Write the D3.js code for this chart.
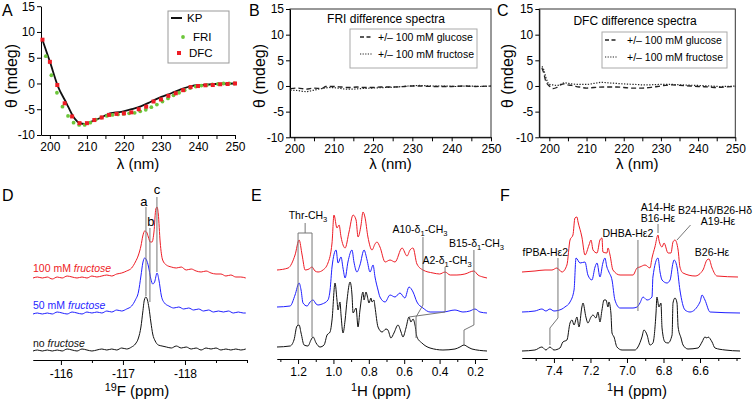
<!DOCTYPE html>
<html><head><meta charset="utf-8">
<script src="https://cdn.jsdelivr.net/npm/d3@7"></script>
<style>
body{margin:0;background:#fff}
svg{display:block}
text{font-family:"Liberation Sans",Arial,Helvetica,sans-serif}
</style></head>
<body><svg id="c" width="753" height="400"></svg>
<script>
// ================= DATA =================
// Panel A — CD spectra
const kpNm  = [198,200,202.2,204.5,206.3,208.1,209.4,211.2,213.9,216.2,219.3,222,224.7,227.4,230.1,232.8,235.5,238.2,240.9,244.5,250];
const kpVal = [8.45,4.24,-0.6,-3.85,-6.4,-7.7,-7.86,-7.4,-6.6,-5.8,-5.5,-5.0,-4.4,-3.5,-2.6,-1.9,-1.1,-0.5,-0.3,-0.1,0];
const friNm  = [198.9,200.4,201.9,203.4,204.9,206.4,207.9,209.4,210.9,212.4,213.9,215.4,216.9,218.4,219.9,221.4,222.9,224.4,225.9,227.4,228.9,230.4,231.9,233.4,234.9,236.4,237.9,239.4,240.9,242.4,243.9,245.4,246.9,248.4,249.9];
const friVal = [5.3,1.6,-1.8,-4.5,-6.3,-7.6,-8.05,-8.05,-7.6,-7.0,-6.6,-6.3,-6.1,-6.0,-5.9,-5.8,-5.7,-5.4,-5.1,-4.6,-4.1,-3.5,-2.9,-2.3,-1.8,-1.3,-0.9,-0.6,-0.4,-0.3,-0.2,-0.1,0,0,0];
const dfcNm  = [198,200,202,204,206,208,210,212,214,216,218,220,222,224,226,228,230,232,234,236,238,240,242,244,246,248,250];
const dfcVal = [8.5,4.2,-0.3,-3.85,-6.4,-7.7,-7.7,-7.1,-6.6,-6.1,-5.9,-5.8,-5.6,-5.0,-4.5,-3.5,-3.1,-2.4,-1.9,-1.3,-0.7,-0.5,-0.35,-0.3,-0.15,-0.1,0];
// Panel B — FRI difference spectra
const friGlcNm  = [199,201,203,205,207,208,210,212,214,216,218,220,222,225,228,230,232,235,238,240,243,246,250];
const friGlcVal = [-0.5,-0.4,-0.6,-0.4,-0.5,-0.1,-0.1,-0.2,-0.3,-0.2,-0.3,-0.3,-0.2,-0.2,-0.1,0,0,-0.1,-0.1,-0.1,0,-0.1,0];
const friFrcNm  = [199,201,203,205,207,209,211,213,215,217,220,223,226,229,232,235,238,241,244,247,250];
const friFrcVal = [-0.8,-0.9,-1.1,-0.8,-0.5,-0.3,-0.4,-0.6,-0.6,-0.5,-0.4,-0.3,-0.2,0,0.1,0,0,-0.1,0,-0.1,0];
// Panel C — DFC difference spectra
const dfcGlcNm  = [198,198.5,199,200,201,202,203,204,205,206,208,210,212,215,218,220,222,225,228,230,233,235,238,240,243,245,247,250];
const dfcGlcVal = [3.5,2.5,1.0,0,-0.5,-0.3,0.2,0.4,0.2,0.1,-0.2,-0.4,-0.3,-0.2,-0.2,-0.3,-0.4,-0.4,-0.2,0,0.2,0.1,0,-0.1,-0.2,-0.3,-0.2,-0.1];
const dfcFrcNm  = [198,198.5,199,199.5,200,201,202,203,204,206,208,210,212,214,216,218,220,223,226,230,233,236,240,243,246,250];
const dfcFrcVal = [3.8,3.2,1.8,0.8,0.3,0.2,0.1,0.3,0.6,0.4,0.3,0.3,0.5,0.7,0.6,0.5,0.4,0.3,0.2,0.3,0.3,0.2,0.1,0,-0.1,0];
const cdYTicks = [-10,-5,0,5,10,15];
const cdXTicks = [200,205,210,215,220,225,230,235,240,245,250];

// Panel D — 19F spectra [ppm, intensity]
const dNoFru = [[-115.55,1],[-115.62,2],[-115.70,1],[-115.78,2],[-115.86,1],[-115.94,2],[-116.02,1],[-116.10,3],[-116.18,2],[-116.26,1],[-116.34,3],[-116.42,2],[-116.50,1],[-116.58,2],[-116.66,3],[-116.74,2],[-116.82,3],[-116.90,2],[-116.98,4],[-117.06,3],[-117.14,5],[-117.20,8],[-117.25,14],[-117.29,25],[-117.32,40],[-117.345,52],[-117.37,55],[-117.395,52],[-117.42,44],[-117.45,30],[-117.48,18],[-117.52,11],[-117.57,7],[-117.63,6],[-117.70,5],[-117.78,4],[-117.86,6],[-117.94,4],[-118.02,5],[-118.10,3],[-118.18,4],[-118.26,2],[-118.34,4],[-118.42,3],[-118.50,4],[-118.58,2],[-118.66,3],[-118.74,2],[-118.82,3],[-118.90,2],[-118.98,3]];
const d50Fru = [[-115.55,38],[-115.62,39],[-115.70,38],[-115.78,39],[-115.86,38],[-115.94,40],[-116.02,39],[-116.10,38],[-116.18,40],[-116.26,39],[-116.34,38],[-116.42,40],[-116.50,39],[-116.58,40],[-116.66,39],[-116.74,41],[-116.82,40],[-116.90,42],[-116.98,41],[-117.06,43],[-117.14,46],[-117.20,52],[-117.25,60],[-117.29,76],[-117.32,89],[-117.35,94],[-117.38,92],[-117.41,86],[-117.45,73],[-117.48,68],[-117.51,70],[-117.55,79],[-117.58,72],[-117.62,56],[-117.67,49],[-117.74,46],[-117.82,44],[-117.90,45],[-117.98,43],[-118.06,44],[-118.14,42],[-118.22,43],[-118.30,41],[-118.38,42],[-118.46,40],[-118.54,41],[-118.62,40],[-118.70,41],[-118.78,39],[-118.86,40],[-118.94,39],[-118.98,39]];
const d100Fru = [[-115.55,74],[-115.62,75],[-115.70,74],[-115.78,75],[-115.86,73],[-115.94,75],[-116.02,74],[-116.10,76],[-116.18,75],[-116.26,74],[-116.34,75],[-116.42,74],[-116.50,76],[-116.58,75],[-116.66,76],[-116.74,77],[-116.82,76],[-116.90,78],[-116.98,79],[-117.06,81],[-117.14,84],[-117.20,90],[-117.25,97],[-117.29,106],[-117.32,116],[-117.35,121],[-117.38,120],[-117.41,115],[-117.44,110],[-117.47,110],[-117.50,120],[-117.53,143],[-117.55,145],[-117.57,138],[-117.60,110],[-117.64,92],[-117.70,87],[-117.78,85],[-117.86,84],[-117.94,85],[-118.02,82],[-118.10,83],[-118.18,81],[-118.26,80],[-118.34,81],[-118.42,79],[-118.50,78],[-118.58,78],[-118.66,76],[-118.74,77],[-118.82,75],[-118.90,75],[-118.98,74]];
const dMajor = [-116,-117,-118];
const dMinor = [-116.5,-117.5,-118.5,-119];

// Panel E — 1H methyl region [ppm, intensity]
const eBlack = [[1.319,3],[1.245,4],[1.223,10],[1.206,24],[1.194,25],[1.183,17],[1.166,5],[1.144,4],[1.127,10],[1.115,13],[1.098,7],[1.076,3],[1.053,5],[1.036,15],[1.019,18],[1.008,30],[0.991,67],[0.980,50],[0.974,40],[0.963,48],[0.957,35],[0.946,17],[0.934,30],[0.923,50],[0.906,68],[0.895,55],[0.889,37],[0.872,42],[0.861,23],[0.850,40],[0.833,58],[0.827,50],[0.816,58],[0.810,55],[0.799,47],[0.788,52],[0.782,48],[0.771,50],[0.765,43],[0.748,23],[0.725,18],[0.703,21],[0.692,20],[0.675,12],[0.658,17],[0.635,25],[0.618,18],[0.607,13],[0.590,22],[0.573,33],[0.562,28],[0.550,31],[0.539,25],[0.528,13],[0.500,7],[0.454,2],[0.381,0],[0.313,1],[0.285,3],[0.262,5],[0.240,3],[0.217,1],[0.132,-1]];
const eBlue = [[1.319,43],[1.245,44],[1.217,55],[1.194,67],[1.183,60],[1.172,47],[1.149,44],[1.132,48],[1.115,50],[1.098,46],[1.087,45],[1.064,46],[1.031,50],[1.019,60],[1.008,83],[0.985,100],[0.974,87],[0.957,93],[0.946,82],[0.934,72],[0.918,88],[0.895,100],[0.884,88],[0.867,78],[0.850,85],[0.827,100],[0.810,90],[0.793,78],[0.776,85],[0.765,73],[0.748,60],[0.737,53],[0.708,48],[0.680,55],[0.652,53],[0.624,57],[0.596,52],[0.573,63],[0.550,58],[0.528,48],[0.494,42],[0.454,38],[0.381,38],[0.313,40],[0.268,38],[0.229,39],[0.200,41],[0.172,38],[0.132,37]];
const eRed = [[1.319,80],[1.256,82],[1.217,95],[1.194,110],[1.177,95],[1.160,80],[1.138,81],[1.121,83],[1.104,79],[1.087,78],[1.059,80],[1.031,87],[1.008,107],[0.997,135],[0.980,122],[0.968,125],[0.957,113],[0.934,102],[0.912,118],[0.889,135],[0.872,130],[0.861,113],[0.844,125],[0.833,138],[0.822,133],[0.805,113],[0.782,100],[0.765,106],[0.754,108],[0.737,103],[0.708,88],[0.680,90],[0.652,88],[0.612,102],[0.584,94],[0.567,100],[0.550,102],[0.528,86],[0.494,80],[0.437,77],[0.400,76],[0.369,78],[0.340,75],[0.302,75],[0.257,76],[0.206,79],[0.183,75],[0.155,73],[0.132,72]];
const eMajor = [1.2,1.0,0.8,0.6,0.4,0.2];
const eMinor = [1.3,1.1,0.9,0.7,0.5,0.3];

// Panel F — 1H aromatic region [ppm, intensity]
const fBlack = [[7.575,0],[7.504,1],[7.466,4],[7.444,1],[7.422,4],[7.400,1],[7.367,3],[7.351,9],[7.329,11],[7.312,28],[7.301,31],[7.290,26],[7.274,34],[7.263,24],[7.247,44],[7.241,48],[7.225,34],[7.214,28],[7.197,34],[7.186,36],[7.170,33],[7.159,39],[7.148,29],[7.137,41],[7.126,51],[7.115,51],[7.104,44],[7.099,49],[7.088,38],[7.082,18],[7.071,14],[7.055,4],[7.027,1],[6.956,1],[6.940,4],[6.918,14],[6.907,21],[6.890,16],[6.874,6],[6.858,8],[6.841,38],[6.836,54],[6.825,44],[6.814,48],[6.808,23],[6.792,9],[6.775,8],[6.753,16],[6.748,48],[6.737,53],[6.726,48],[6.720,24],[6.704,13],[6.693,6],[6.666,2],[6.611,3],[6.589,9],[6.573,14],[6.562,13],[6.556,14],[6.534,9],[6.518,3],[6.463,1],[6.381,0]];
const fBlue = [[7.575,39],[7.504,40],[7.466,42],[7.444,40],[7.422,42],[7.400,40],[7.356,42],[7.340,44],[7.312,49],[7.290,61],[7.279,93],[7.257,88],[7.230,89],[7.214,76],[7.192,71],[7.175,84],[7.164,88],[7.148,74],[7.132,88],[7.121,93],[7.110,84],[7.099,79],[7.082,71],[7.066,51],[7.038,43],[6.967,43],[6.945,44],[6.929,48],[6.912,54],[6.890,51],[6.863,54],[6.858,74],[6.830,93],[6.819,79],[6.808,71],[6.781,68],[6.764,71],[6.748,88],[6.742,91],[6.726,84],[6.710,61],[6.682,41],[6.655,39],[6.600,49],[6.589,56],[6.573,51],[6.545,39],[6.381,38]];
const fRed = [[7.575,79],[7.504,80],[7.449,81],[7.411,81],[7.384,83],[7.356,79],[7.329,86],[7.312,111],[7.296,116],[7.285,133],[7.274,134],[7.268,129],[7.247,114],[7.230,96],[7.208,106],[7.197,111],[7.186,101],[7.164,98],[7.148,111],[7.137,113],[7.132,99],[7.110,98],[7.104,103],[7.093,96],[7.077,81],[7.038,76],[6.967,76],[6.945,83],[6.929,84],[6.901,86],[6.874,83],[6.863,93],[6.847,104],[6.830,116],[6.825,111],[6.808,104],[6.797,108],[6.775,98],[6.759,98],[6.748,109],[6.737,111],[6.720,101],[6.710,84],[6.693,78],[6.627,75],[6.584,81],[6.562,91],[6.551,92],[6.534,83],[6.507,75],[6.392,74]];
const fMajor = [7.4,7.2,7.0,6.8,6.6];
const fMinor = [7.5,7.3,7.1,6.9,6.7,6.5,6.4];

// annotation leader lines [ppm, intensity]
const dLeaders = [[[-117.371,145],[-117.371,56]],[[-117.435,124],[-117.435,50]],[[-117.548,155],[-117.548,80]]];
const eLeaders = [
  [[1.160,127],[1.160,117]],[[1.200,117],[1.121,117]],[[1.200,117],[1.200,25]],[[1.121,117],[1.121,13]],
  [[0.494,113],[0.494,45],[0.533,33],[0.533,12]],
  [[0.369,83],[0.369,38],[0.573,33]],
  [[0.206,100],[0.206,25],[0.262,20],[0.262,5]]];
const fLeaders = [
  [[7.378,93],[7.378,33],[7.422,23],[7.422,6]],
  [[6.940,111],[6.940,40]],
  [[6.830,127],[6.830,118]],
  [[6.652,126],[6.726,111]]];

// ================= DRAW =================
const svg = d3.select("#c");
const RED = "#ee1c25", BLUE = "#1f1fff", GREEN = "#6cc63a", BLK = "#111";
const LEAD = "#777";

function rich(sel, segs){
  let shift = 0;
  segs.forEach(s=>{
    const want = s.sub ? 3 : (s.sup ? -5 : 0);
    const ts = sel.append("tspan").attr("dy", want - shift).text(s.t);
    if (s.sub || s.sup) ts.style("font-size","0.72em");
    if (s.it) ts.style("font-style","italic");
    shift = want;
  });
  return sel;
}
function styleAxis(g, fs){
  g.attr("font-size", fs).attr("font-family", null);
  g.selectAll("path,line").attr("stroke","#000").attr("stroke-width",1);
  g.selectAll("text").attr("fill","#000");
}
const letter = (x,y,t)=> svg.append("text").attr("x",x).attr("y",y).attr("font-size",16).text(t);

// ---------- CD panels ----------
function cdPanel(o){
  const g = svg.append("g");
  const x = d3.scaleLinear().domain(o.xd).range(o.xr);
  const y = d3.scaleLinear().domain([-10,15]).range(o.yr);
  if (o.frame){
    g.append("rect").attr("x",o.xr[0]).attr("y",o.yr[1]).attr("width",o.xr[1]-o.xr[0]).attr("height",o.yr[0]-o.yr[1])
      .attr("fill","none").attr("stroke","#333").attr("stroke-width",1);
  }
  const ax = g.append("g").attr("transform",`translate(0,${o.yr[0]})`)
    .call(d3.axisBottom(x).tickValues(cdXTicks).tickFormat(d=> d%10===0 ? String(d) : "").tickSize(4).tickSizeOuter(0).tickPadding(3));
  styleAxis(ax, 12);
  const ay = g.append("g").attr("transform",`translate(${o.xr[0]},0)`)
    .call(d3.axisLeft(y).tickValues(cdYTicks).tickFormat(d=>String(d)).tickSize(4).tickSizeOuter(0).tickPadding(2));
  styleAxis(ay, 12);
  g.append("text").attr("x",(o.xr[0]+o.xr[1])/2).attr("y",169).attr("text-anchor","middle").attr("font-size",15).text("λ (nm)");
  g.append("text").attr("transform",`translate(${o.ylx},76) rotate(-90)`).attr("text-anchor","middle").attr("font-size",16).text("θ (mdeg)");
  return {g,x,y};
}

// Panel A
{
  const {g,x,y} = cdPanel({xd:[197.6,250], xr:[41,235], yr:[135,6.2], ylx:17});
  const line = d3.line().x((d,i)=>x(d[0])).y(d=>y(d[1])).curve(d3.curveMonotoneX);
  g.append("path").attr("d", line(kpNm.map((v,i)=>[v,kpVal[i]]))).attr("fill","none").attr("stroke",BLK).attr("stroke-width",1.8);
  g.selectAll("circle.fri").data(friNm.map((v,i)=>[v,friVal[i]])).join("circle")
    .attr("cx",d=>x(d[0])).attr("cy",d=>y(d[1])).attr("r",1.9).attr("fill",GREEN);
  g.selectAll("rect.dfc").data(dfcNm.map((v,i)=>[v,dfcVal[i]])).join("rect")
    .attr("x",d=>x(d[0])-2).attr("y",d=>y(d[1])-2).attr("width",4).attr("height",4).attr("fill",RED);
  // legend
  const L = g.append("g");
  L.append("rect").attr("x",168).attr("y",11).attr("width",61).attr("height",52).attr("fill","#fff").attr("stroke","#999");
  L.append("line").attr("x1",171).attr("x2",182).attr("y1",18).attr("y2",18).attr("stroke",BLK).attr("stroke-width",2);
  L.append("text").attr("x",187).attr("y",22).attr("font-size",11.5).text("KP");
  L.append("circle").attr("cx",183).attr("cy",37).attr("r",1.9).attr("fill",GREEN);
  L.append("text").attr("x",193).attr("y",41).attr("font-size",11.5).text("FRI");
  L.append("rect").attr("x",177).attr("y",51).attr("width",4).attr("height",4).attr("fill",RED);
  L.append("text").attr("x",189).attr("y",57).attr("font-size",11.5).text("DFC");
  letter(2,16,"A");
}

function diffPanel(o){
  const {g,x,y} = cdPanel(o);
  const line = d3.line().x(d=>x(d[0])).y(d=>y(d[1])).curve(d3.curveMonotoneX);
  g.append("path").attr("d", line(o.glc)).attr("fill","none").attr("stroke","#222").attr("stroke-width",1.3).attr("stroke-dasharray","5,3");
  g.append("path").attr("d", line(o.frc)).attr("fill","none").attr("stroke","#222").attr("stroke-width",1.2).attr("stroke-dasharray","1.3,1.5");
  g.append("text").attr("x",o.title[0]).attr("y",o.title[1]).attr("text-anchor","middle").attr("font-size",12).text(o.titleText);
  const b = o.box;
  g.append("rect").attr("x",b[0]).attr("y",b[1]).attr("width",b[2]).attr("height",b[3]).attr("fill","#fff").attr("stroke","#aaa");
  g.append("line").attr("x1",b[0]+b[4]).attr("x2",b[0]+b[4]+13).attr("y1",b[1]+8).attr("y2",b[1]+8).attr("stroke","#222").attr("stroke-width",1.3).attr("stroke-dasharray","4,2.5");
  g.append("line").attr("x1",b[0]+b[4]).attr("x2",b[0]+b[4]+13).attr("y1",b[1]+25).attr("y2",b[1]+25).attr("stroke","#222").attr("stroke-width",1.2).attr("stroke-dasharray","1.2,1.4");
  g.append("text").attr("x",b[0]+b[5]).attr("y",b[1]+12).attr("font-size",10.5).text("+/– 100 mM glucose");
  g.append("text").attr("x",b[0]+b[5]).attr("y",b[1]+29).attr("font-size",10.5).text("+/– 100 mM fructose");
}
diffPanel({xd:[198.9,250], xr:[290,491], yr:[137.3,9], ylx:265, frame:true,
  glc: friGlcNm.map((v,i)=>[v,friGlcVal[i]]), frc: friFrcNm.map((v,i)=>[v,friFrcVal[i]]),
  title:[386,23], titleText:"FRI difference spectra", box:[350,29,127,39,10,28]});
letter(249,16,"B");
diffPanel({xd:[197.3,250], xr:[539.3,735.3], yr:[137.3,9], ylx:513, frame:true,
  glc: dfcGlcNm.map((v,i)=>[v,dfcGlcVal[i]]), frc: dfcFrcNm.map((v,i)=>[v,dfcFrcVal[i]]),
  title:[635,25], titleText:"DFC difference spectra", box:[602,32,125,36,3,25]});
letter(497,16,"C");

// ---------- NMR panels ----------
function nmrPanel(o){
  const g = svg.append("g");
  const x = d3.scaleLinear().domain(o.xd).range(o.xr);
  const y = d3.scaleLinear().domain([0,160]).range([o.y0, o.y0-160]);
  const line = d3.line().x(d=>x(d[0])).y(d=>y(d[1])).curve(d3.curveMonotoneX);
  o.traces.forEach(t=> g.append("path").attr("d", line(t[0])).attr("fill","none").attr("stroke",t[1]).attr("stroke-width",1));
  const ll = d3.line().x(d=>x(d[0])).y(d=>y(d[1]));
  o.leaders.forEach(p=> g.append("path").attr("d", ll(p)).attr("fill","none").attr("stroke",LEAD).attr("stroke-width",1));
  const amin = g.append("g").attr("transform",`translate(0,${o.ax})`)
    .call(d3.axisBottom(x).tickValues(o.minor).tickFormat("").tickSize(3).tickSizeOuter(0));
  styleAxis(amin, 11);
  const amaj = g.append("g").attr("transform",`translate(0,${o.ax})`)
    .call(d3.axisBottom(x).tickValues(o.major).tickFormat(o.fmt).tickSize(5).tickSizeOuter(0).tickPadding(o.pad));
  styleAxis(amaj, 12);
  const t = g.append("text").attr("x",o.titleX).attr("y",396).attr("text-anchor","middle").attr("font-size",15);
  rich(t, [{t:o.nuc,sup:true},{t:" "},{t:o.el+" (ppm)"}].filter(s=>s.t!==" "));
  return {g,x,y};
}

// Panel D
{
  const {g,x,y} = nmrPanel({xd:[-115.55,-119], xr:[33,247], y0:352, ax:360, pad:4,
    traces:[[dNoFru,BLK],[d50Fru,BLUE],[d100Fru,RED]], leaders:dLeaders,
    major:dMajor, minor:dMinor, fmt:d=>String(d), titleX:137, nuc:"19", el:"F"});
  const lab = (ppm,int,segs,col)=> rich(g.append("text").attr("x",x(ppm)).attr("y",y(int)).attr("font-size",10.5).attr("fill",col), segs);
  lab(-115.55,80,[{t:"100 mM "},{t:"fructose",it:true}],RED);
  lab(-115.55,43,[{t:"50 mM "},{t:"fructose",it:true}],BLUE);
  lab(-115.55,5,[{t:"no "},{t:"fructose",it:true}],BLK);
  [["a",-117.339,146],["b",-117.452,126],["c",-117.548,158]].forEach(d=>
    g.append("text").attr("x",x(d[1])).attr("y",y(d[2])).attr("text-anchor","middle").attr("font-size",13).text(d[0]));
  letter(2,201,"D");
}

// Panel E
{
  const {g,x,y} = nmrPanel({xd:[1.319,0.132], xr:[277,487], y0:350, ax:359, pad:3,
    traces:[[eBlack,BLK],[eBlue,BLUE],[eRed,RED]], leaders:eLeaders,
    major:eMajor, minor:eMinor, fmt:d3.format(".1f"), titleX:381, nuc:"1", el:"H"});
  const lab = (ppm,int,segs,anchor)=> rich(g.append("text").attr("x",x(ppm)).attr("y",y(int)).attr("font-size",10.5).attr("text-anchor",anchor), segs);
  lab(1.144,131,[{t:"Thr-CH"},{t:"3",sub:true}],"middle");
  lab(0.511,117,[{t:"A10-δ"},{t:"1",sub:true},{t:"-CH"},{t:"3",sub:true}],"middle");
  lab(0.358,86,[{t:"A2-δ"},{t:"1",sub:true},{t:"-CH"},{t:"3",sub:true}],"middle");
  lab(0.347,103,[{t:"B15-δ"},{t:"1",sub:true},{t:"-CH"},{t:"3",sub:true}],"start");
  letter(251,201,"E");
}

// Panel F
{
  const {g,x,y} = nmrPanel({xd:[7.575,6.381], xr:[522,740], y0:351, ax:358, pad:3,
    traces:[[fBlack,BLK],[fBlue,BLUE],[fRed,RED]], leaders:fLeaders,
    major:fMajor, minor:fMinor, fmt:d3.format(".1f"), titleX:637, nuc:"1", el:"H"});
  const lab = (ppm,int,t,anchor)=> g.append("text").attr("x",x(ppm)).attr("y",y(int)).attr("font-size",10.5).attr("text-anchor",anchor).text(t);
  lab(7.447,95,"fPBA-Hε2","middle");
  lab(6.995,114,"DHBA-Hε2","middle");
  lab(6.830,140,"A14-Hε","middle");
  lab(6.830,129,"B16-Hε","middle");
  lab(6.315,137,"B24-Hδ/B26-Hδ","end");
  lab(6.501,126,"A19-Hε","middle");
  lab(6.534,95,"B26-Hε","middle");
  letter(500,201,"F");
}
</script></body></html>
